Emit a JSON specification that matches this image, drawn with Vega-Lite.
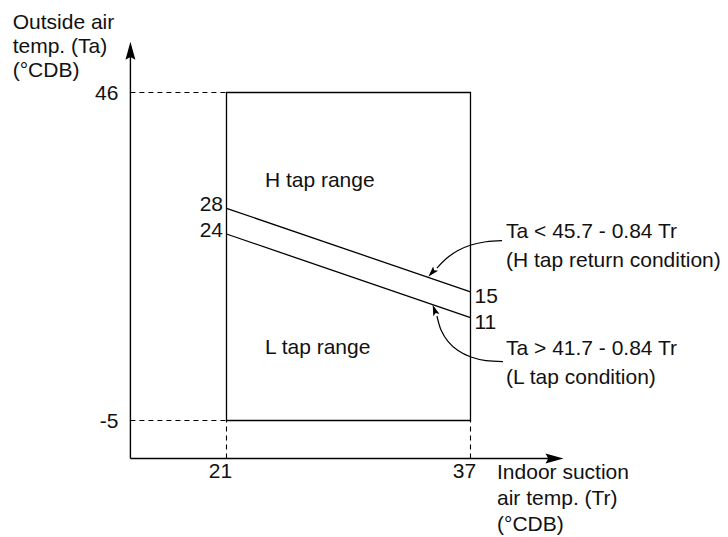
{
  "$schema": "https://vega.github.io/schema/vega-lite/v6.json",
  "width": 728,
  "height": 537,
  "autosize": "none",
  "padding": 0,
  "background": "white",
  "config": {"view": {"stroke": null}, "text": {"font": "Liberation Sans", "fontSize": 21, "color": "#111", "lineBreak": "\n"}},
  "encoding": {
    "x": {"field": "x", "type": "quantitative", "scale": {"domain": [6.148, 53.886], "nice": false, "zero": false}, "axis": null},
    "y": {"field": "y", "type": "quantitative", "scale": {"domain": [-23.114, 60.383], "nice": false, "zero": false}, "axis": null}
  },
  "layer": [
    {
      "data": {"values": [{"x": 21, "y": -5, "x2": 37, "y2": 46}]},
      "mark": {"type": "rect", "fill": "transparent", "stroke": "#000", "strokeWidth": 1.3},
      "encoding": {"x2": {"field": "x2"}, "y2": {"field": "y2"}}
    },
    {
      "data": {"values": [{"x": 14.7, "y": -10.9, "x2": 14.7, "y2": 53.0}, {"x": 14.7, "y": -10.9, "x2": 42.6, "y2": -10.9}]},
      "mark": {"type": "rule", "stroke": "#000", "strokeWidth": 1.4},
      "encoding": {"x2": {"field": "x2"}, "y2": {"field": "y2"}}
    },
    {
      "data": {"values": [
        {"x": 14.7, "y": 46, "x2": 21, "y2": 46},
        {"x": 14.7, "y": -5, "x2": 21, "y2": -5},
        {"x": 21, "y": -10.9, "x2": 21, "y2": -5},
        {"x": 37, "y": -10.9, "x2": 37, "y2": -5}
      ]},
      "mark": {"type": "rule", "stroke": "#000", "strokeWidth": 1.1, "strokeDash": [5, 4]},
      "encoding": {"x2": {"field": "x2"}, "y2": {"field": "y2"}}
    },
    {
      "data": {"values": [{"x": 21, "y": 28, "x2": 37, "y2": 15}, {"x": 21, "y": 24, "x2": 37, "y2": 11}]},
      "mark": {"type": "rule", "stroke": "#000", "strokeWidth": 1.3},
      "encoding": {"x2": {"field": "x2"}, "y2": {"field": "y2"}}
    },
    {
      "data": {"values": [
        {"curve": "H", "order": 1, "x": 39.07, "y": 22.96},
        {"curve": "H", "order": 2, "x": 38.02, "y": 22.79},
        {"curve": "H", "order": 3, "x": 37.03, "y": 22.29},
        {"curve": "H", "order": 4, "x": 36.18, "y": 21.43},
        {"curve": "H", "order": 5, "x": 35.44, "y": 20.22},
        {"curve": "H", "order": 6, "x": 34.8, "y": 18.7},
        {"curve": "L", "order": 1, "x": 39.13, "y": 4.17},
        {"curve": "L", "order": 2, "x": 38.02, "y": 4.31},
        {"curve": "L", "order": 3, "x": 37.03, "y": 4.87},
        {"curve": "L", "order": 4, "x": 36.18, "y": 5.88},
        {"curve": "L", "order": 5, "x": 35.52, "y": 7.31},
        {"curve": "L", "order": 6, "x": 35.07, "y": 9.07},
        {"curve": "L", "order": 7, "x": 34.8, "y": 11.25}
      ]},
      "mark": {"type": "line", "stroke": "#000", "strokeWidth": 1.2, "interpolate": "catmull-rom"},
      "encoding": {"detail": {"field": "curve"}, "order": {"field": "order", "type": "quantitative"}}
    },
    {
      "data": {"values": [{"x": 14.7, "y": 53.9}]},
      "mark": {"type": "point", "shape": "M0,0L0.55,2L0,1.7L-0.55,2Z", "size": 324, "filled": true, "fill": "#000", "opacity": 1, "strokeWidth": 0, "angle": 0}
    },
    {
      "data": {"values": [{"x": 43.1, "y": -10.9}]},
      "mark": {"type": "point", "shape": "M0,0L0.55,2L0,1.7L-0.55,2Z", "size": 324, "filled": true, "fill": "#000", "opacity": 1, "strokeWidth": 0, "angle": 90}
    },
    {
      "data": {"values": [{"x": 34.23, "y": 17.35}]},
      "mark": {"type": "point", "shape": "M0,0L0.6,2L0,1.6L-0.6,2Z", "size": 121, "filled": true, "fill": "#000", "opacity": 1, "strokeWidth": 0, "angle": 222}
    },
    {
      "data": {"values": [{"x": 34.52, "y": 13.0}]},
      "mark": {"type": "point", "shape": "M0,0L0.6,2L0,1.6L-0.6,2Z", "size": 121, "filled": true, "fill": "#000", "opacity": 1, "strokeWidth": 0, "angle": 340}
    },
    {
      "data": {"values": [{"x": 6.98, "y": 55.83, "label": "Outside air\ntemp. (Ta)\n(°CDB)"}]},
      "mark": {"type": "text", "align": "left", "baseline": "alphabetic", "lineHeight": 24},
      "encoding": {"text": {"field": "label"}}
    },
    {
      "data": {"values": [{"x": 38.74, "y": -14.14, "label": "Indoor suction\nair temp. (Tr)\n(°CDB)"}]},
      "mark": {"type": "text", "align": "left", "baseline": "alphabetic", "lineHeight": 26},
      "encoding": {"text": {"field": "label"}}
    },
    {
      "data": {"values": [
        {"x": 39.33, "y": 23.42, "label": "Ta < 45.7 - 0.84 Tr\n(H tap return condition)"},
        {"x": 39.33, "y": 5.18, "label": "Ta > 41.7 - 0.84 Tr\n(L tap condition)"}
      ]},
      "mark": {"type": "text", "align": "left", "baseline": "alphabetic", "lineHeight": 29},
      "encoding": {"text": {"field": "label"}}
    },
    {
      "data": {"values": [{"x": 23.52, "y": 31.35, "label": "H tap range"}, {"x": 23.52, "y": 5.34, "label": "L tap range"}]},
      "mark": {"type": "text", "align": "left", "baseline": "alphabetic"},
      "encoding": {"text": {"field": "label"}}
    },
    {
      "data": {"values": [{"x": 14.7, "y": 46, "label": "46"}, {"x": 14.7, "y": -5, "label": "-5"}]},
      "mark": {"type": "text", "align": "right", "baseline": "alphabetic", "dx": -12, "dy": 7},
      "encoding": {"text": {"field": "label"}}
    },
    {
      "data": {"values": [{"x": 21, "y": -10.9, "label": "21"}, {"x": 37, "y": -10.9, "label": "37"}]},
      "mark": {"type": "text", "align": "center", "baseline": "alphabetic", "dx": -6, "dy": 20},
      "encoding": {"text": {"field": "label"}}
    },
    {
      "data": {"values": [{"x": 21, "y": 28, "label": "28"}, {"x": 21, "y": 24, "label": "24"}]},
      "mark": {"type": "text", "align": "right", "baseline": "alphabetic", "dx": -3.5, "dy": 3},
      "encoding": {"text": {"field": "label"}}
    },
    {
      "data": {"values": [{"x": 37, "y": 15, "label": "15"}, {"x": 37, "y": 11, "label": "11"}]},
      "mark": {"type": "text", "align": "left", "baseline": "alphabetic", "dx": 4, "dy": 11},
      "encoding": {"text": {"field": "label"}}
    }
  ]
}
